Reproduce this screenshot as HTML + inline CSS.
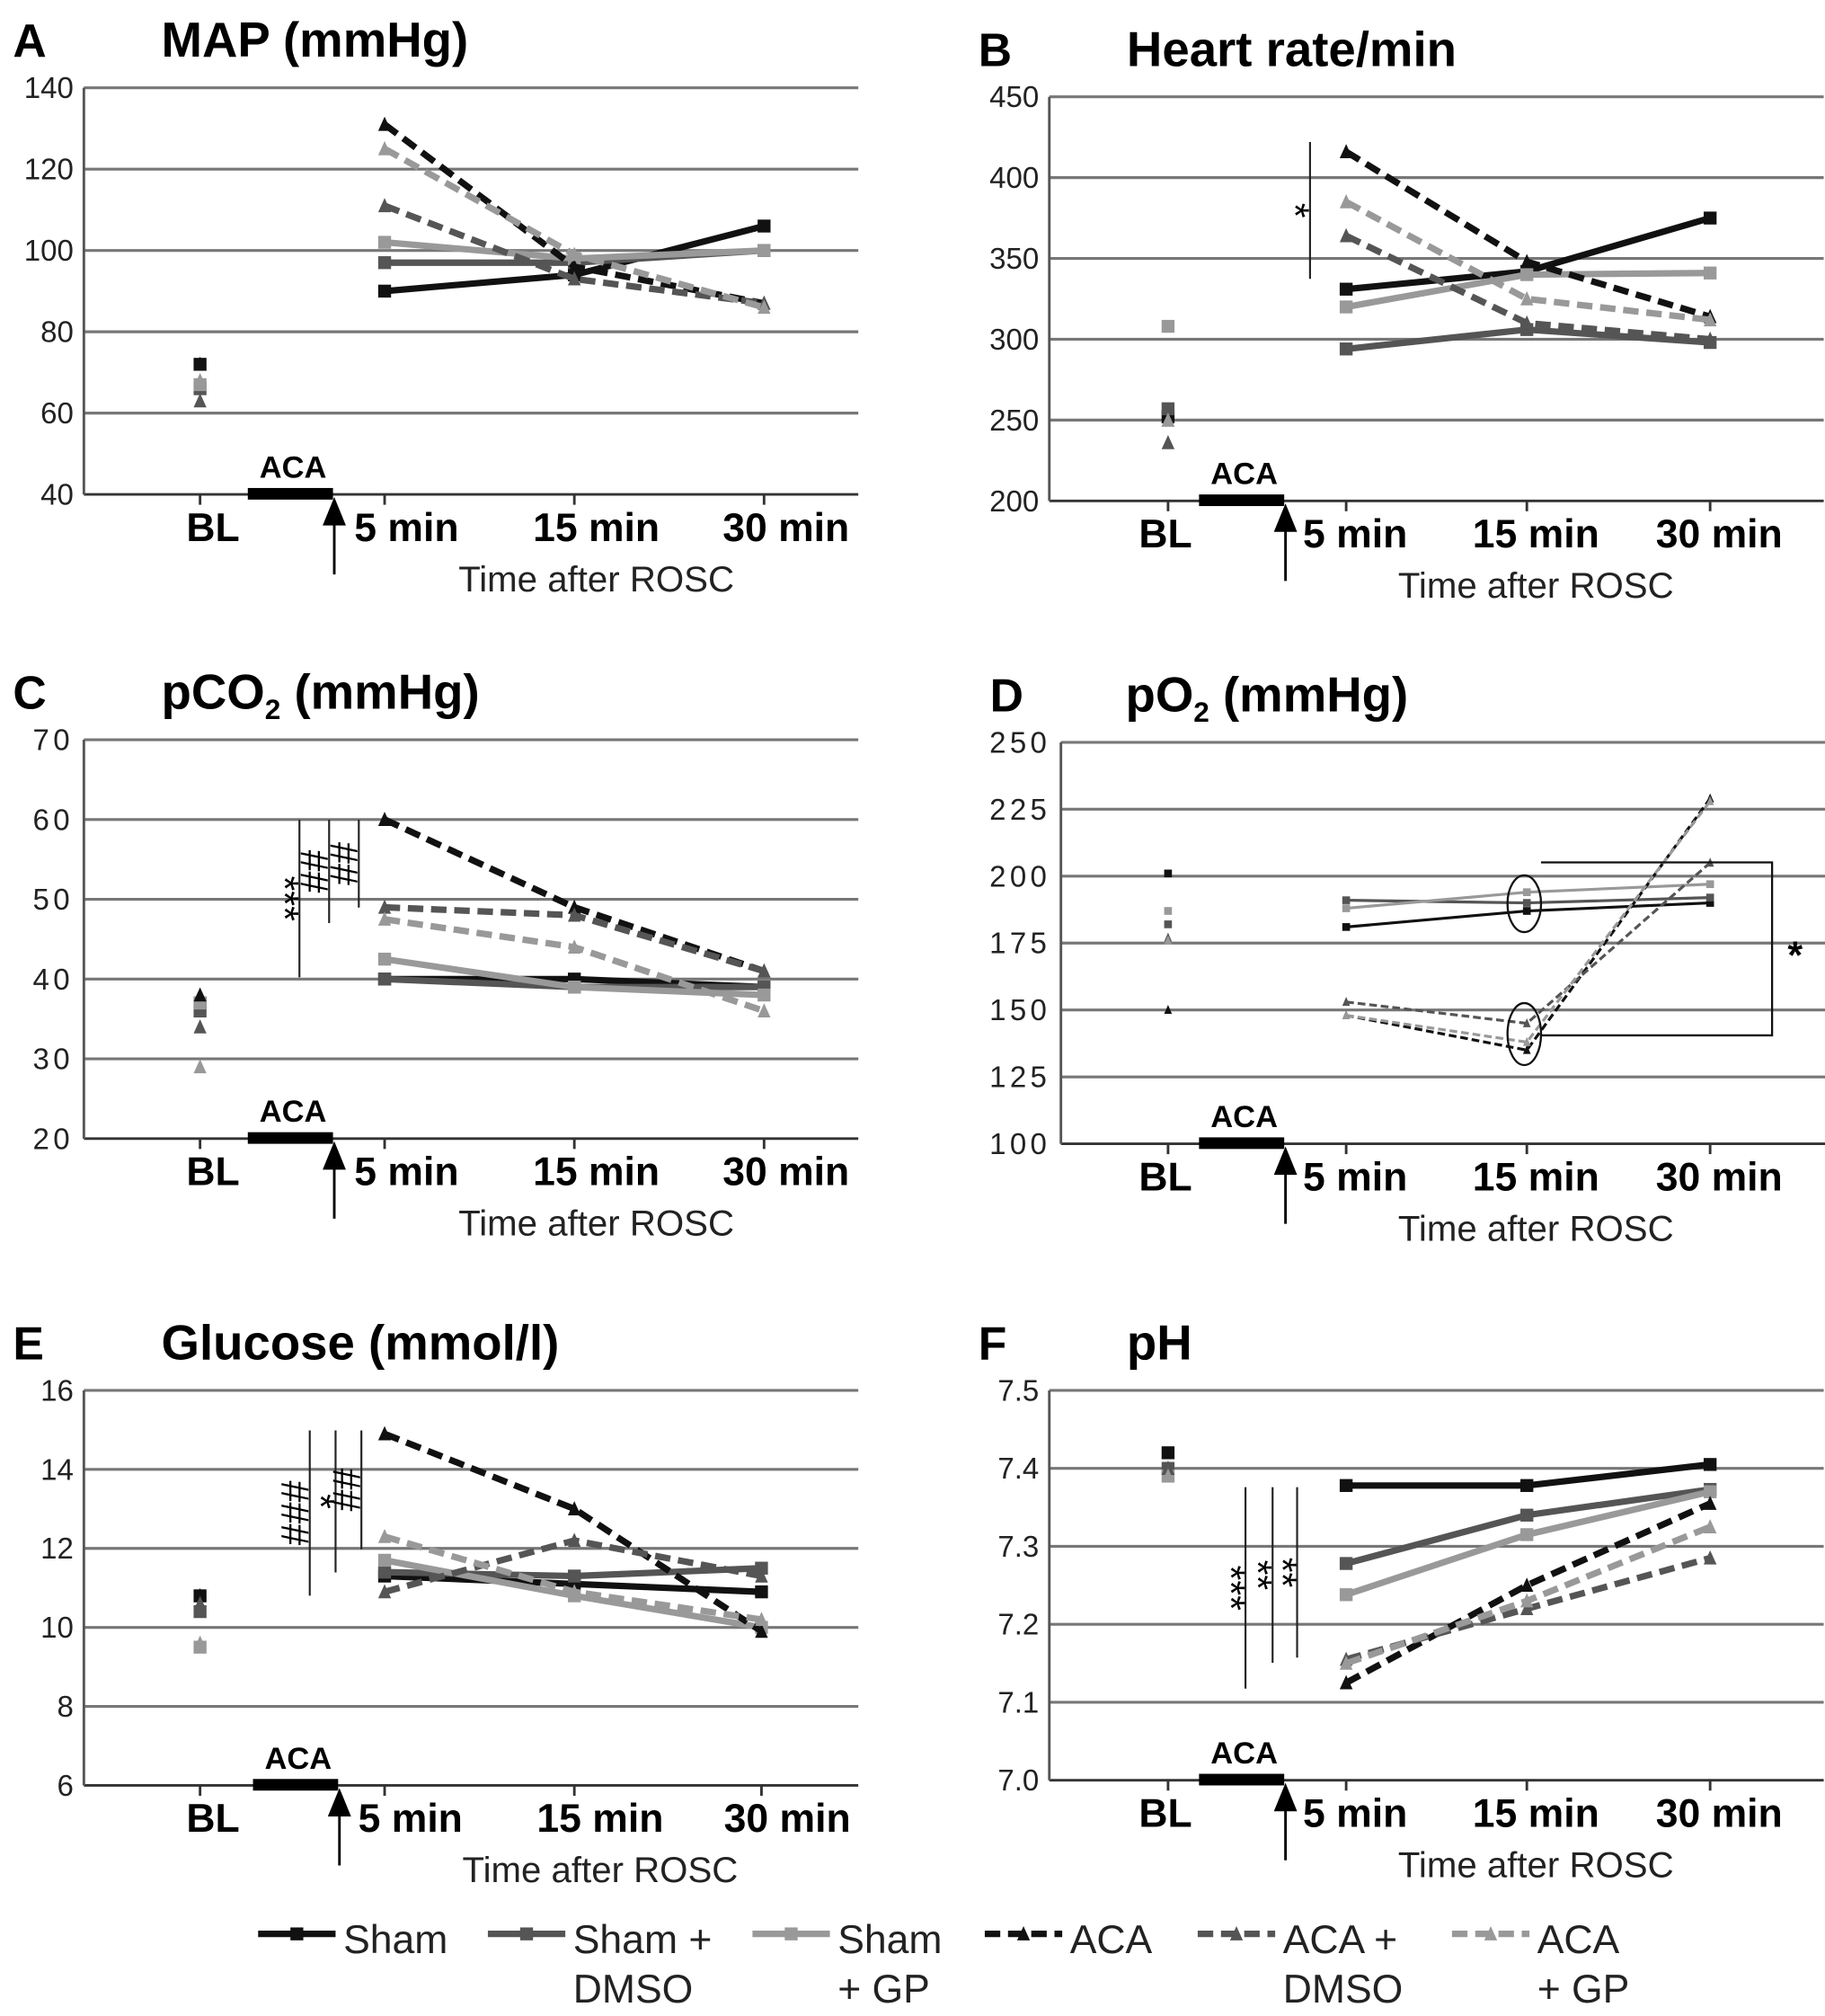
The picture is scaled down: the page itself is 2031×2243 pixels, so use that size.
<!DOCTYPE html>
<html><head><meta charset="utf-8"><style>
html,body{margin:0;padding:0;background:#fff}
svg{display:block;font-family:"Liberation Sans",sans-serif}
</style></head><body>
<svg id="fig" width="2031" height="2243" viewBox="0 0 1414 1561.6" xmlns="http://www.w3.org/2000/svg"></svg>
<script>
const seriesNames=["Sham","Sham + DMSO","Sham + GP","ACA","ACA + DMSO","ACA + GP"];
const timeLabels=["5 min","15 min","30 min"];
const mapBL=[72,66,67,72,63,68];
const map5=[90,97,102,131,111,125];
const map15=[94,97,98,96,93,99];
const map30=[106,100,100,87,87,86];
const hrBL=[252,257,308,250,236,250];
const hr5=[331,294,320,416,364,385];
const hr15=[342,306,340,348,310,325];
const hr30=[375,298,341,314,300,312];
const co2BL=[37,36,37,38,34,29];
const co25=[40,40,42.5,60,49,47.5];
const co215=[40,39,39,49,48,44];
const co230=[39,39,38,41,41,36];
const o2BL=[201,182,187,150,177,176];
const o25=[181,191,188,148,153,148];
const o215=[187,190,194,135,145,138];
const o230=[190,192,197,229,205,228];
const gluBL=[10.8,10.4,9.5,10.8,10.6,9.6];
const glu5=[11.3,11.4,11.7,14.9,10.9,12.3];
const glu15=[11.1,11.3,10.8,13,12.2,10.9];
const glu30=[10.9,11.5,10,9.9,11.3,10.2];
const phBL=[7.42,7.40,7.39,7.40,7.40,7.39];
const ph5=[7.378,7.278,7.238,7.125,7.155,7.15];
const ph15=[7.378,7.34,7.315,7.25,7.22,7.23];
const ph30=[7.405,7.373,7.37,7.355,7.285,7.325];
const ticksA=["40","60","80","100","120","140"];
const ticksB=["200","250","300","350","400","450"];
const ticksC=["20","30","40","50","60","70"];
const ticksD=["100","125","150","175","200","225","250"];
const ticksE=["6","8","10","12","14","16"];
const ticksF=["7.0","7.1","7.2","7.3","7.4","7.5"];

const NS="http://www.w3.org/2000/svg";
const svg=document.getElementById('fig');
const colors=["#111","#555","#999","#111","#555","#999"];
function el(t,a,p){const e=document.createElementNS(NS,t);for(const k in a)e.setAttribute(k,a[k]);(p||svg).appendChild(e);return e;}
function txt(x,y,s,a,p){const e=el('text',Object.assign({x:x,y:y},a),p);e.textContent=s;return e;}

function panel(o){
  const g=el('g',{});
  
  
  const n=o.ticks.length;
  const yv=v=>o.yb+(o.yt-o.yb)*(v-o.vmin)/(o.vmax-o.vmin);
  const ab=o.ab;
  for(let i=0;i<n;i++){
    const v=o.vmin+(o.vmax-o.vmin)*i/(n-1);const y=yv(v);
    const gl=el('line',{x1:o.ax,x2:o.ax+600,y1:y,y2:y,stroke:i==0?'#333':'#777','stroke-width':i==0?2:2.2},g);
    
    const t=txt(o.ax-8,y+8,o.ticks[i],{'text-anchor':'end','font-size':23,fill:'#222','letter-spacing':o.ls||0},g);
    
  }
  const ax=el('line',{x1:o.ax,x2:o.ax,y1:o.yt,y2:o.yb,stroke:'#555','stroke-width':2},g);
  
  [o.xb,...o.xs].forEach(x=>{el('line',{x1:x,x2:x,y1:o.yb,y2:o.yb+8,stroke:'#333','stroke-width':2},g);});
  const L=txt(o.ax-55,o.yt-24,o.id,{'font-size':36,'font-weight':'bold'},g);
  
  const T=el('text',{x:o.ax+60+(o.tdx||0),y:o.yt-24,'font-size':38,'font-weight':'bold'},g);
  T.innerHTML=o.title;
  
  const bar=el('rect',{x:ab,y:o.yb-5,width:66,height:9,fill:'#000'},g);
  
  txt(ab+35,o.yb-13,'ACA',{'text-anchor':'middle','font-size':24,'font-weight':'bold'},g);
  el('line',{x1:ab+67,x2:ab+67,y1:o.yb+62,y2:o.yb+14,stroke:'#000','stroke-width':2},g);
  const ar=el('polygon',{points:`${ab+58},${o.yb+24} ${ab+67},${o.yb+2} ${ab+76},${o.yb+24}`,fill:'#000'},g);
  
  const bl=txt(o.xb+o.bdx,o.yb+36,'BL',{'text-anchor':'middle','font-size':31,'font-weight':'bold'},g);
  
  timeLabels.forEach((s,i)=>{const t=txt(o.xs[i]+o.ldx,o.yb+36,s,{'text-anchor':'middle','font-size':31,'font-weight':'bold'},g);
    });
  const xt=txt(o.xs[1]+o.ldx,o.yb+75,'Time after ROSC',{'text-anchor':'middle','font-size':28,fill:'#222'},g);
  
  const sw=o.thin?2.2:5;
  for(let s=0;s<6;s++){
    const vals=[o.d5[s],o.d15[s],o.d30[s]];
    const pts=vals.map((v,i)=>[o.xs[i],yv(v)]);
    const ln=el('polyline',{points:pts.map(p=>p.join(',')).join(' '),fill:'none',stroke:colors[s],'stroke-width':sw,'stroke-dasharray':s>=3?(o.thin?'6,3':'12,6'):'none'},g);
    
    const all=[[o.xb,yv(o.bl[s])],...pts];
    all.forEach(p=>{
      const m=o.thin?3:5;let mk;
      if(s<3) mk=el('rect',{x:p[0]-m,y:p[1]-m,width:2*m,height:2*m,fill:colors[s]},g);
      else mk=el('polygon',{points:`${p[0]-m},${p[1]+m} ${p[0]},${p[1]-m-1} ${p[0]+m},${p[1]+m}`,fill:colors[s]},g);
      
    });
  }
  return g;
}
const xsL=[298,445,592], xsR=[1043,1183,1325];
const gA=panel({id:'A',title:'MAP (mmHg)',ax:65,yt:68,yb:383,vmin:40,vmax:140,ticks:ticksA,xb:155,ab:192,bdx:10,ldx:17,xs:xsL,bl:mapBL,d5:map5,d15:map15,d30:map30});
const gB=panel({id:'B',title:'Heart rate/min',ax:813,yt:75,yb:388,vmin:200,vmax:450,ticks:ticksB,xb:905,ab:929,bdx:-2,ldx:7,xs:xsR,bl:hrBL,d5:hr5,d15:hr15,d30:hr30});
const gC=panel({id:'C',title:'pCO<tspan font-size="22" dy="8">2</tspan><tspan dy="-8"> (mmHg)</tspan>',ax:65,yt:573,yb:882,vmin:20,vmax:70,ticks:ticksC,ls:3,xb:155,ab:192,bdx:10,ldx:17,xs:xsL,bl:co2BL,d5:co25,d15:co215,d30:co230});
const gD=panel({id:'D',title:'pO<tspan font-size="22" dy="8">2</tspan><tspan dy="-8"> (mmHg)</tspan>',ax:822,yt:575,yb:886,vmin:100,vmax:250,ticks:ticksD,ls:3,xb:905,ab:929,bdx:-2,ldx:7,xs:xsR,bl:o2BL,d5:o25,d15:o215,d30:o230,thin:true,tdx:-10});
const gE=panel({id:'E',title:'Glucose (mmol/l)',ax:65,yt:1077,yb:1383,vmin:6,vmax:16,ticks:ticksE,xb:155,ab:196,bdx:10,ldx:20,xs:[298,445,590],bl:gluBL,d5:glu5,d15:glu15,d30:glu30});
const gF=panel({id:'F',title:'pH',ax:813,yt:1077,yb:1379,vmin:7.0,vmax:7.5,ticks:ticksF,xb:905,ab:929,bdx:-2,ldx:7,xs:xsR,bl:phBL,d5:ph5,d15:ph15,d30:ph30});

function sig(x,y1,y2,s,p){el('line',{x1:x,x2:x,y1:y1,y2:y2,stroke:'#222','stroke-width':1.5},p);
  const cy=(y1+y2)/2;
  const t=txt(x-12,cy,s,{'font-size':30,'text-anchor':'middle','dominant-baseline':'central',transform:`rotate(90 ${x-12} ${cy})`},p);
  }
sig(1015,110,216,'*',gB);
sig(232,635,757,'***',gC);sig(255,635,715,'##',gC);sig(278,635,703,'##',gC);
sig(240,1108,1236,'###',gE);sig(260,1108,1218,'*',gE);sig(280,1108,1200,'##',gE);
sig(965,1152,1308,'***',gF);sig(986,1152,1288,'**',gF);sig(1005,1152,1284,'**',gF);
el('ellipse',{cx:1181,cy:700,rx:13,ry:22,fill:'none',stroke:'#111','stroke-width':1.6},gD);
el('ellipse',{cx:1181,cy:801,rx:13,ry:24,fill:'none',stroke:'#111','stroke-width':1.6},gD);
el('polyline',{points:'1194,668 1373,668 1373,802 1194,802',fill:'none',stroke:'#111','stroke-width':1.6},gD);
txt(1385,750,'*',{'font-size':30,'font-weight':'bold'},gD);

const lg=el('g',{});

const lx=[200,378,583,763,928,1125];
const l1=["Sham","Sham +","Sham","ACA","ACA +","ACA"], l2=["","DMSO","+ GP","","DMSO","+ GP"];
for(let s=0;s<6;s++){
  const g=el('g',{},lg);
  
  el('line',{x1:lx[s],x2:lx[s]+60,y1:1498,y2:1498,stroke:colors[s],'stroke-width':5,'stroke-dasharray':s>=3?'12,6':'none'},g);
  if(s<3) el('rect',{x:lx[s]+25,y:1493,width:10,height:10,fill:colors[s]},g);
  else el('polygon',{points:`${lx[s]+25},${1503} ${lx[s]+30},${1492} ${lx[s]+35},${1503}`,fill:colors[s]},g);
  txt(lx[s]+66,1513,l1[s],{'font-size':31,fill:'#222'},g);
  if(l2[s]) txt(lx[s]+66,1551,l2[s],{'font-size':31,fill:'#222'},g);
}
</script>
</body></html>
